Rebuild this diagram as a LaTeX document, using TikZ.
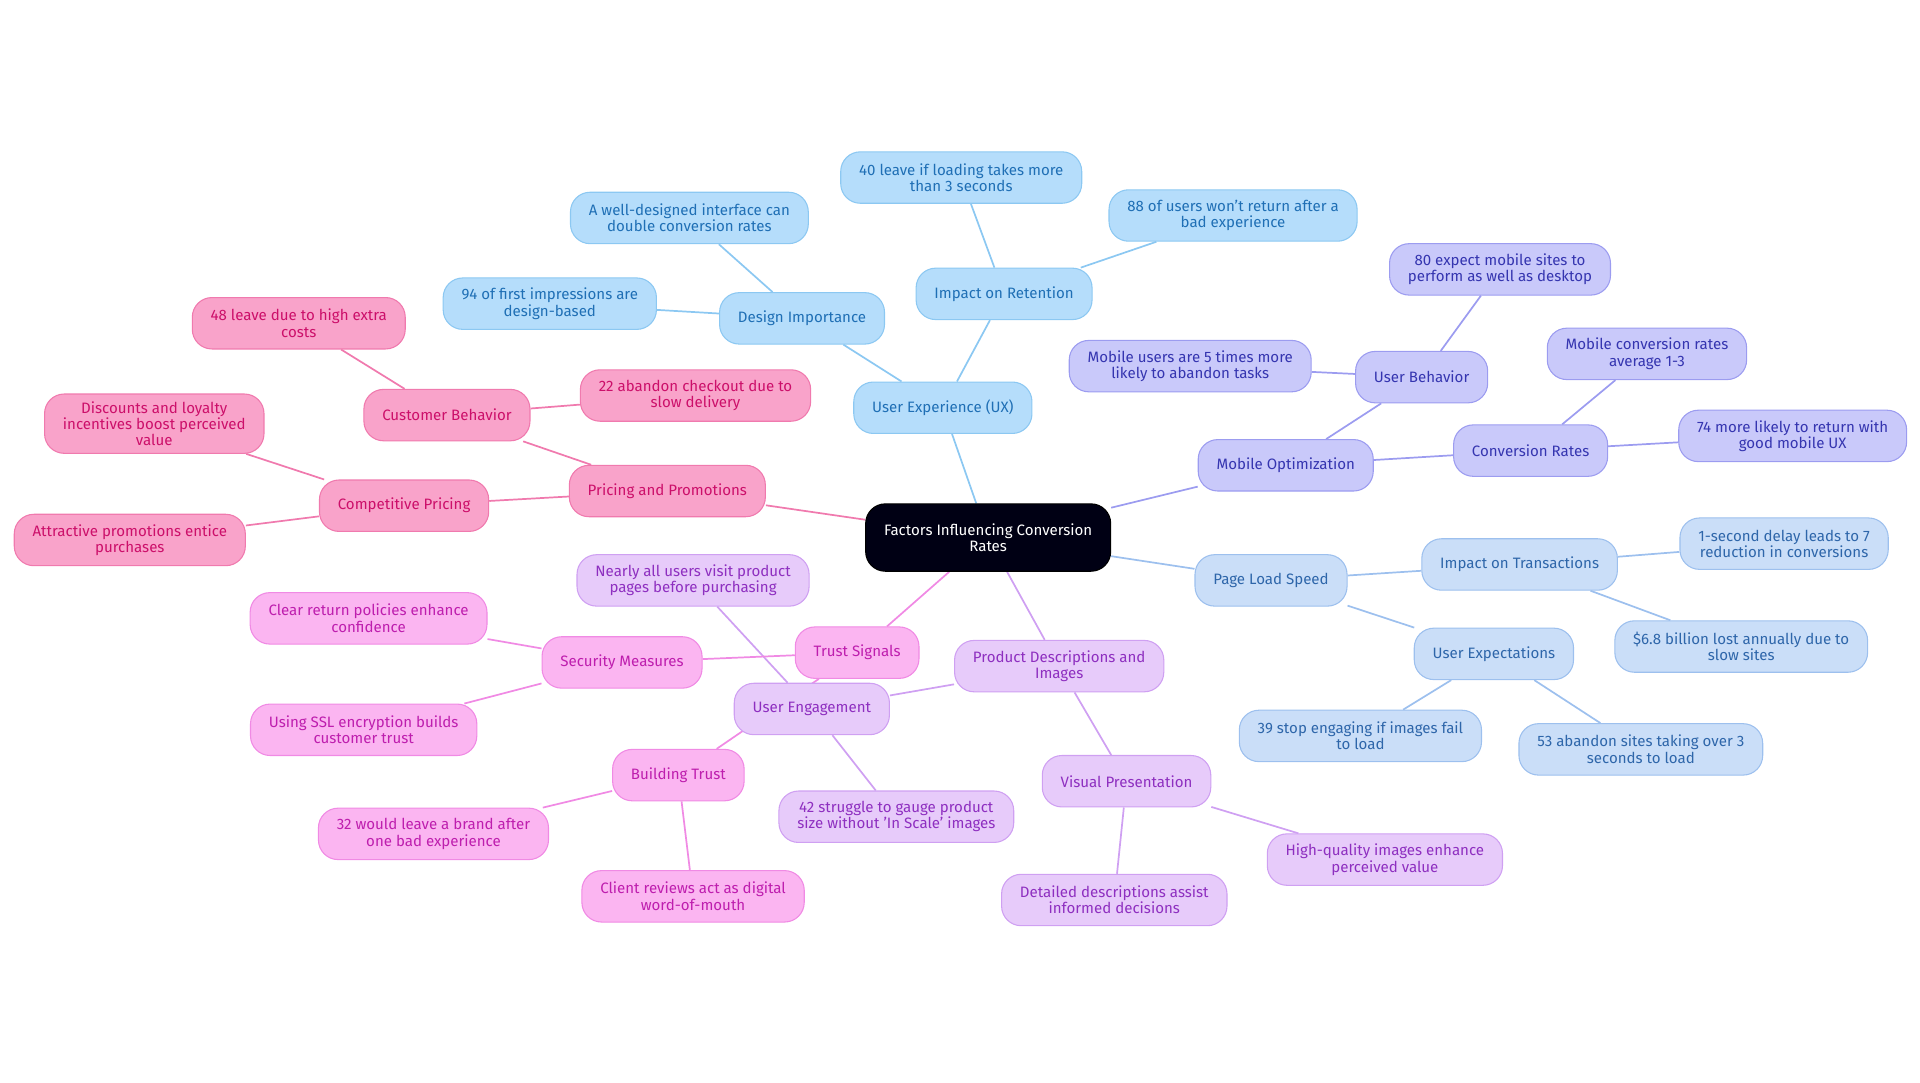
\documentclass[tikz,border=0pt]{standalone}
\usepackage{fontspec}
\setmainfont{Fira Sans}
\usetikzlibrary{backgrounds}
\definecolor{uxF}{HTML}{B5DDFB}\definecolor{uxD}{HTML}{8CC8F2}\definecolor{uxT}{HTML}{1F6FB5}
\definecolor{moF}{HTML}{C9C9FA}\definecolor{moD}{HTML}{9C9CF0}\definecolor{moT}{HTML}{3535B0}
\definecolor{plF}{HTML}{CADEF8}\definecolor{plD}{HTML}{9DC0EE}\definecolor{plT}{HTML}{2E66AA}
\definecolor{prF}{HTML}{E7CBFA}\definecolor{prD}{HTML}{CFA0F2}\definecolor{prT}{HTML}{8E2FC0}
\definecolor{trF}{HTML}{FBB5F1}\definecolor{trD}{HTML}{F08AE4}\definecolor{trT}{HTML}{BE1EAE}
\definecolor{piF}{HTML}{F9A3CA}\definecolor{piD}{HTML}{F07AAE}\definecolor{piT}{HTML}{CC0F6A}
\tikzset{
  box/.style={draw, rounded corners=0.32cm, align=center, font=\fontsize{7}{7.6}\selectfont,
    inner xsep=0.3cm, inner ysep=0.12cm, minimum height=0.84cm, line width=0.5pt},
  ux/.style={box, fill=uxF, draw=uxD, text=uxT},
  mo/.style={box, fill=moF, draw=moD, text=moT},
  pl/.style={box, fill=plF, draw=plD, text=plT},
  pr/.style={box, fill=prF, draw=prD, text=prT},
  tr/.style={box, fill=trF, draw=trD, text=trT},
  pi/.style={box, fill=piF, draw=piD, text=piT},
  link/.style={line width=0.8pt}
}
\begin{document}
\begin{tikzpicture}[x=0.02cm,y=-0.02cm]
\useasboundingbox (0,0) rectangle (1568,884);
\node[box, fill=black!92!blue, draw=black, text=white, minimum height=1.1cm] (root) at (807,439) {Factors Influencing Conversion\\Rates};
% user experience
\node[ux] (ux) at (770,333) {User Experience (UX)};
\node[ux] (design) at (655,260) {Design Importance};
\node[ux] (retention) at (820,240) {Impact on Retention};
\node[ux] (ux1) at (563,178) {A well-designed interface can\\double conversion rates};
\node[ux] (ux2) at (449,248) {94 of first impressions are\\design-based};
\node[ux] (ux3) at (785,145) {40 leave if loading takes more\\than 3 seconds};
\node[ux] (ux4) at (1007,176) {88 of users won't return after a\\bad experience};
% mobile
\node[mo] (mobile) at (1050,380) {Mobile Optimization};
\node[mo] (userbeh) at (1161,308) {User Behavior};
\node[mo] (mo1) at (1225,220) {80 expect mobile sites to\\perform as well as desktop};
\node[mo] (mo2) at (972,299) {Mobile users are 5 times more\\likely to abandon tasks};
\node[mo] (convrates) at (1250,368) {Conversion Rates};
\node[mo] (mo3) at (1345,289) {Mobile conversion rates\\average 1-3};
\node[mo] (mo4) at (1464,356) {74 more likely to return with\\good mobile UX};
% page load
\node[pl] (pageload) at (1038,474) {Page Load Speed};
\node[pl] (transact) at (1241,461) {Impact on Transactions};
\node[pl] (pl1) at (1457,444) {1-second delay leads to 7\\reduction in conversions};
\node[pl] (pl2) at (1422,528) {\$6.8 billion lost annually due to\\slow sites};
\node[pl] (userexp) at (1220,534) {User Expectations};
\node[pl] (pl3) at (1111,601) {39 stop engaging if images fail\\to load};
\node[pl] (pl4) at (1340,612) {53 abandon sites taking over 3\\seconds to load};
% product
\node[pr] (product) at (865,544) {Product Descriptions and\\Images};
\node[pr] (visual) at (920,638) {Visual Presentation};
\node[pr] (pr1) at (910,735) {Detailed descriptions assist\\informed decisions};
\node[pr] (pr2) at (1131,702) {High-quality images enhance\\perceived value};
\node[pr] (engage) at (663,579) {User Engagement};
\node[pr] (pr3) at (566,474) {Nearly all users visit product\\pages before purchasing};
\node[pr] (pr4) at (732,667) {42 struggle to gauge product\\size without 'In Scale' images};
% trust
\node[tr] (trust) at (700,533) {Trust Signals};
\node[tr] (security) at (508,541) {Security Measures};
\node[tr] (tr1) at (301,505) {Clear return policies enhance\\confidence};
\node[tr] (tr2) at (297,596) {Using SSL encryption builds\\customer trust};
\node[tr] (building) at (554,633) {Building Trust};
\node[tr] (tr3) at (354,681) {32 would leave a brand after\\one bad experience};
\node[tr] (tr4) at (566,732) {Client reviews act as digital\\word-of-mouth};
% pricing
\node[pi] (pricing) at (545,401) {Pricing and Promotions};
\node[pi] (customer) at (365,339) {Customer Behavior};
\node[pi] (pi1) at (244,264) {48 leave due to high extra\\costs};
\node[pi] (pi2) at (568,323) {22 abandon checkout due to\\slow delivery};
\node[pi] (competitive) at (330,413) {Competitive Pricing};
\node[pi] (pi3) at (126,346) {Discounts and loyalty\\incentives boost perceived\\value};
\node[pi] (pi4) at (106,441) {Attractive promotions entice\\purchases};
\begin{scope}[on background layer]
\draw[link, uxD] (root) -- (ux) (ux) -- (design) (ux) -- (retention) (design) -- (ux1) (design) -- (ux2) (retention) -- (ux3) (retention) -- (ux4);
\draw[link, moD] (root) -- (mobile) (mobile) -- (userbeh) (userbeh) -- (mo1) (userbeh) -- (mo2) (mobile) -- (convrates) (convrates) -- (mo3) (convrates) -- (mo4);
\draw[link, plD] (root) -- (pageload) (pageload) -- (transact) (transact) -- (pl1) (transact) -- (pl2) (pageload) -- (userexp) (userexp) -- (pl3) (userexp) -- (pl4);
\draw[link, prD] (root) -- (product) (product) -- (visual) (visual) -- (pr1) (visual) -- (pr2) (product) -- (engage) (engage) -- (pr3) (engage) -- (pr4);
\draw[link, trD] (root) -- (trust) (trust) -- (security) (security) -- (tr1) (security) -- (tr2) (trust) -- (building) (building) -- (tr3) (building) -- (tr4);
\draw[link, piD] (root) -- (pricing) (pricing) -- (customer) (customer) -- (pi1) (customer) -- (pi2) (pricing) -- (competitive) (competitive) -- (pi3) (competitive) -- (pi4);
\end{scope}
\end{tikzpicture}
\end{document}
